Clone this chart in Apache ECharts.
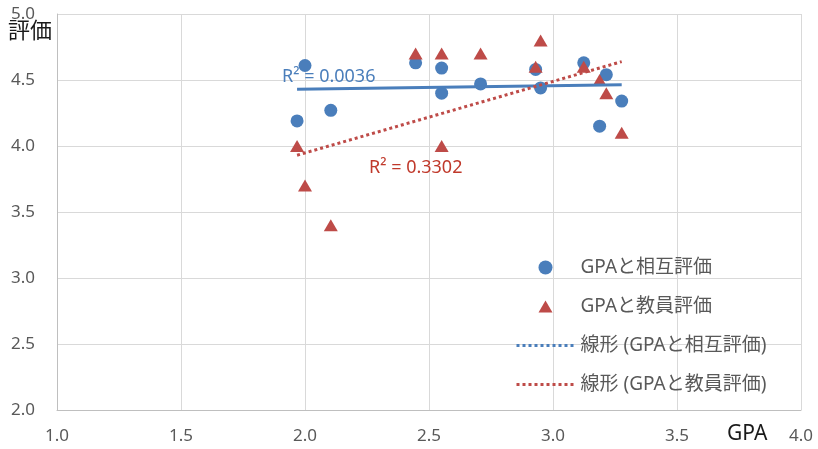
<!DOCTYPE html>
<html><head><meta charset="utf-8">
<script src="https://cdn.jsdelivr.net/npm/echarts@6/dist/echarts.min.js"></script>
<style>html,body{margin:0;padding:0;background:#fff}#c{width:818px;height:449px}</style>
</head><body><div id="c"></div>
<script>
// GPA of each student
const gpa = [1.968, 2.0, 2.104, 2.446, 2.551, 2.551, 2.708, 2.93, 2.95, 3.124, 3.215, 3.188, 3.277];
// peer evaluation (相互評価)
const peerEval = [4.19, 4.61, 4.27, 4.63, 4.59, 4.40, 4.47, 4.58, 4.44, 4.63, 4.54, 4.15, 4.34];
// teacher evaluation (教員評価)
const teacherEval = [4.0, 3.7, 3.4, 4.7, 4.7, 4.0, 4.7, 4.6, 4.8, 4.6, 4.4, 4.5, 4.1];
const xTicks = ['1.0','1.5','2.0','2.5','3.0','3.5','4.0'];
const names = ['GPAと相互評価','GPAと教員評価','線形 (GPAと相互評価)','線形 (GPAと教員評価)'];
const r2Labels = ['R² = 0.0036','R² = 0.3302'];

function pairs(xs, ys){ return xs.map((x,i)=>[x, ys[i]]); }
function trend(xs, ys){
  const n = xs.length;
  const mx = xs.reduce((a,b)=>a+b,0)/n, my = ys.reduce((a,b)=>a+b,0)/n;
  let sxy=0, sxx=0;
  for(let i=0;i<n;i++){ sxy+=(xs[i]-mx)*(ys[i]-my); sxx+=(xs[i]-mx)**2; }
  const b = sxy/sxx, a = my-b*mx;
  const x0 = Math.min(...xs), x1 = Math.max(...xs);
  return [[x0, a+b*x0],[x1, a+b*x1]];
}

const BLUE = '#4a7ebb', RED = '#be4b48';
const FONT = "'Noto Sans', 'Noto Sans CJK JP', sans-serif";
const TRI_ICON = 'path://M7,1L14,13L0,13Z M0,0 M0,14';
const chart = echarts.init(document.getElementById('c'));
chart.setOption({
  animation:false,
  textStyle:{fontFamily:FONT},
  grid:{left:57,right:17,top:14,bottom:39},
  xAxis:{type:'value',min:1,max:4,interval:0.5,
    axisLine:{lineStyle:{color:'#bfbfbf',width:1}},axisTick:{show:false},
    splitLine:{lineStyle:{color:'#d9d9d9',width:1}},
    axisLabel:{color:'#595959',fontSize:17,margin:18,fontFamily:FONT,
      formatter:(v)=>xTicks[Math.round((v-1)/0.5)]}},
  yAxis:{type:'value',min:2,max:5,interval:0.5,
    axisLine:{show:true,lineStyle:{color:'#bfbfbf',width:1}},axisTick:{show:false},
    splitLine:{lineStyle:{color:'#d9d9d9',width:1}},
    axisLabel:{color:'#595959',fontSize:17,margin:22,fontFamily:FONT,formatter:(v)=>v.toFixed(1)}},
  legend:{orient:'vertical',left:510,top:253,itemWidth:58,itemHeight:14,itemGap:20,
    symbolKeepAspect:true,
    textStyle:{fontSize:19,color:'#595959',fontFamily:FONT,padding:[0,0,0,1]},
    data:[
      {name:names[0],icon:'circle'},
      {name:names[1],icon:TRI_ICON},
      {name:names[2],lineStyle:{type:[3,3],width:3,color:BLUE},itemStyle:{opacity:0}},
      {name:names[3],lineStyle:{type:[3,3],width:3,color:RED},itemStyle:{opacity:0}}
    ]},
  series:[
    {name:names[0],type:'scatter',symbol:'circle',symbolSize:13,itemStyle:{color:BLUE,opacity:1},data:pairs(gpa,peerEval),z:2},
    {name:names[1],type:'scatter',symbol:'triangle',symbolSize:[14,12],itemStyle:{color:RED,opacity:1},data:pairs(gpa,teacherEval),z:3},
    {name:names[2],type:'line',symbol:'none',lineStyle:{color:BLUE,width:3,type:'solid'},itemStyle:{color:BLUE},data:trend(gpa,peerEval),z:4},
    {name:names[3],type:'line',symbol:'none',lineStyle:{color:RED,width:3,type:[3,3]},itemStyle:{color:RED},data:trend(gpa,teacherEval),z:4}
  ],
  graphic:[
    {type:'text',left:8,top:19,style:{text:'評価',fontSize:22,fill:'#1a1a1a',fontFamily:"'Noto Sans CJK JP', sans-serif"}},
    {type:'text',left:727,top:424,style:{text:'GPA',fontSize:21,fill:'#1a1a1a',fontFamily:FONT}},
    {type:'text',left:282,top:68,z:10,style:{text:r2Labels[0],fontSize:18,fill:BLUE,fontFamily:FONT}},
    {type:'text',left:369,top:159,z:10,style:{text:r2Labels[1],fontSize:18,fill:'#c0392b',fontFamily:FONT}}
  ]
});
</script></body></html>
